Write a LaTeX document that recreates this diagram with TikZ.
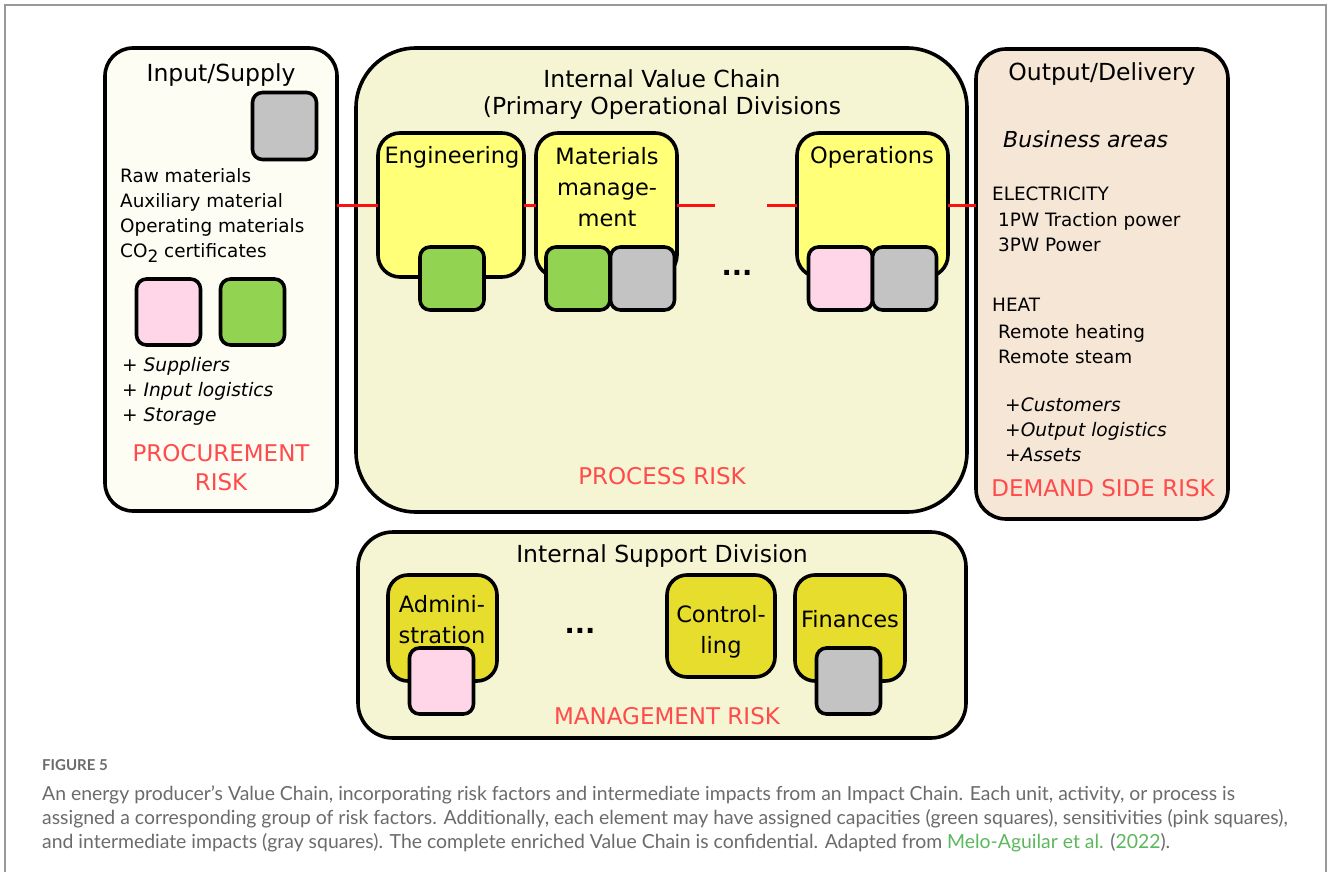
\documentclass[tikz,border=0pt]{standalone}
\usepackage{fontspec}
\setmainfont{DejaVu Sans}
\newfontfamily\capfont{Lato}
\definecolor{inpfill}{HTML}{FDFDF3}
\definecolor{ivcfill}{HTML}{F5F5D4}
\definecolor{outfill}{HTML}{F5E6D6}
\definecolor{unityellow}{HTML}{FFFF78}
\definecolor{supyellow}{HTML}{E6DD2C}
\definecolor{sqgray}{HTML}{C3C3C3}
\definecolor{sqpink}{HTML}{FED6E8}
\definecolor{sqgreen}{HTML}{92D451}
\definecolor{riskred}{HTML}{FF4B4B}
\definecolor{linkred}{HTML}{FF1010}
\definecolor{framegray}{HTML}{999999}
\definecolor{capgray}{HTML}{6B6B6B}
\definecolor{capgreen}{HTML}{5CB85C}
\begin{document}
\begin{tikzpicture}[x=1pt,y=-1pt,
  box/.style={draw=black, line width=3.6pt, inner sep=0pt, outer sep=0pt},
  sq/.style={box, minimum width=64pt, minimum height=64pt, rounded corners=10pt},
  gsq/.style={sq, fill=sqgray},
  psq/.style={sq, fill=sqpink},
  grsq/.style={sq, fill=sqgreen},
  unit/.style={box, fill=unityellow, rounded corners=22pt},
  sunit/.style={box, fill=supyellow, rounded corners=20pt},
  title/.style={inner sep=0pt, font=\fontsize{23.5}{28}\selectfont},
  body/.style={inner sep=0pt, anchor=mid west, font=\fontsize{18.4}{25}\selectfont},
  ital/.style={inner sep=0pt, anchor=mid west, font=\fontsize{18.6}{25}\selectfont\itshape},
  risk/.style={inner sep=0pt, text=riskred, font=\fontsize{23}{28}\selectfont},
  unitlbl/.style={inner sep=0pt, align=center, font=\fontsize{22.5}{31}\selectfont},
  dots/.style={inner sep=0pt, font=\fontsize{27}{30}\selectfont\bfseries},
  link/.style={draw=linkred, line width=3pt},
  captxt/.style={inner sep=0pt, anchor=mid west, text=capgray, font=\capfont\fontsize{19.4}{24}\selectfont},
]
\useasboundingbox (0,0) rectangle (1328,872);
\fill[white] (0,0) rectangle (1328,872);
\draw[framegray, line width=2pt] (5,872) -- (5,5) -- (1326,5) -- (1326,872);

% main containers
\node[box, fill=inpfill, rounded corners=28pt, minimum width=232pt, minimum height=463pt] (inp) at (221,279.5) {};
\node[box, fill=ivcfill, rounded corners=60pt, minimum width=611pt, minimum height=464pt] (ivc) at (661.5,280) {};
\node[box, fill=outfill, rounded corners=30pt, minimum width=252pt, minimum height=470pt] (out) at (1102,284) {};
\node[box, fill=ivcfill, rounded corners=35pt, minimum width=608pt, minimum height=206pt] (isd) at (662,635) {};

% units of the value chain
\node[unit, minimum width=146pt, minimum height=144pt] (eng) at (451,205) {};
\node[unit, minimum width=141pt, minimum height=144pt] (mat) at (606.5,205) {};
\node[unit, minimum width=151pt, minimum height=144pt] (ops) at (872.5,205) {};

% connectors
\coordinate (gapL) at (715,205);
\coordinate (gapR) at (767,205);
\draw[link] (eng.west) -- (eng.west -| inp.east);
\draw[link] (eng.east) -- (mat.west);
\draw[link] (mat.east) -- (gapL);
\draw[link] (gapR) -- (ops.west);
\draw[link] (ops.east) -- (ops.east -| out.west);

% squares
\node[gsq, minimum height=67pt] (inpgray) at (284.5,126) {};
\node[psq, minimum height=66pt] (inppink) at (168.5,312) {};
\node[grsq, minimum height=66pt] (inpgreen) at (252.5,312) {};
\node[grsq, minimum height=63pt] (enggreen) at (452,278.5) {};
\node[grsq, minimum height=63pt] (matgreen) at (578,278.5) {};
\node[gsq, minimum height=63pt] (matgray) at (642.5,278.5) {};
\node[psq, minimum height=63pt] (opspink) at (840.5,278.5) {};
\node[gsq, minimum height=63pt] (opsgray) at (904.5,278.5) {};

% support units
\node[sunit, minimum width=109pt, minimum height=106pt] (adm) at (442.5,628) {};
\node[sunit, minimum width=108pt, minimum height=102pt] (ctl) at (721,626) {};
\node[sunit, minimum width=110pt, minimum height=106pt] (fin) at (850,628) {};
\node[psq, minimum height=66pt] (admpink) at (441.5,681) {};
\node[gsq, minimum height=66pt] (fingray) at (848.5,681) {};

% texts: input
\node[title] (tin) at (221,75) {Input/Supply};
\node[body] (in1) at (120,180) {Raw materials};
\node[body] (in2) at (120,205) {Auxiliary material};
\node[body] (in3) at (120,230) {Operating materials};
\node[body] (in4) at (120,255) {CO\raisebox{-0.28em}{\fontsize{17}{17}\selectfont 2} certificates};
\node[ital] (in5) at (122,369) {+ Suppliers};
\node[ital] (in6) at (122,394) {+ Input logistics};
\node[ital] (in7) at (122,419) {+ Storage};
\node[risk] (rin1) at (221,453) {PROCUREMENT};
\node[risk] (rin2) at (221,482) {RISK};

% texts: value chain
\node[title] (tivc1) at (662,79) {Internal Value Chain};
\node[title] (tivc2) at (662,108) {(Primary Operational Divisions};
\node[unitlbl, anchor=mid] (teng) at (452,161) {Engineering};
\node[unitlbl, anchor=north] (tmat) at (607,147) {Materials\\manage-\\ment};
\node[unitlbl, anchor=mid] (tops) at (872,161) {Operations};
\node[dots] (dvc) at (737,273) {...};
\node[risk] (rivc) at (662,476) {PROCESS RISK};

% texts: output
\node[title] (tout) at (1102,74) {Output/Delivery};
\node[ital, font=\fontsize{22}{26}\selectfont\itshape] (ba) at (1003,145) {Business areas};
\node[body] (o1) at (992,198) {ELECTRICITY};
\node[body] (o2) at (998,224) {1PW Traction power};
\node[body] (o3) at (998,249) {3PW Power};
\node[body] (o4) at (992,309) {HEAT};
\node[body] (o5) at (998,336) {Remote heating};
\node[body] (o6) at (998,361) {Remote steam};
\node[ital] (o7) at (1005,409) {+Customers};
\node[ital] (o8) at (1005,434) {+Output logistics};
\node[ital] (o9) at (1005,459) {+Assets};
\node[risk] (rout) at (1103,488) {DEMAND SIDE RISK};

% texts: support
\node[title] (tisd) at (662,556) {Internal Support Division};
\node[unitlbl, anchor=north] (tadm) at (442,595) {Admini-\\stration};
\node[dots] (dsp) at (580,631) {...};
\node[unitlbl, anchor=north] (tctl) at (721,605) {Control-\\ling};
\node[unitlbl, anchor=mid] (tfin) at (850,625) {Finances};
\node[risk] (risd) at (667,716) {MANAGEMENT RISK};

% caption
\node[captxt, font=\capfont\bfseries\fontsize{15}{18}\selectfont] (fig) at (42,768) {FIGURE 5};
\node[captxt] (c1) at (42,798) {An energy producer’s Value Chain, incorporating risk factors and intermediate impacts from an Impact Chain. Each unit, activity, or process is};
\node[captxt] (c2) at (42,822) {assigned a corresponding group of risk factors. Additionally, each element may have assigned capacities (green squares), sensitivities (pink squares),};
\node[captxt] (c3) at (42,846) {and intermediate impacts (gray squares). The complete enriched Value Chain is confidential. Adapted from \textcolor{capgreen}{Melo-Aguilar et al.} (\textcolor{capgreen}{2022}).};
\end{tikzpicture}
\end{document}
